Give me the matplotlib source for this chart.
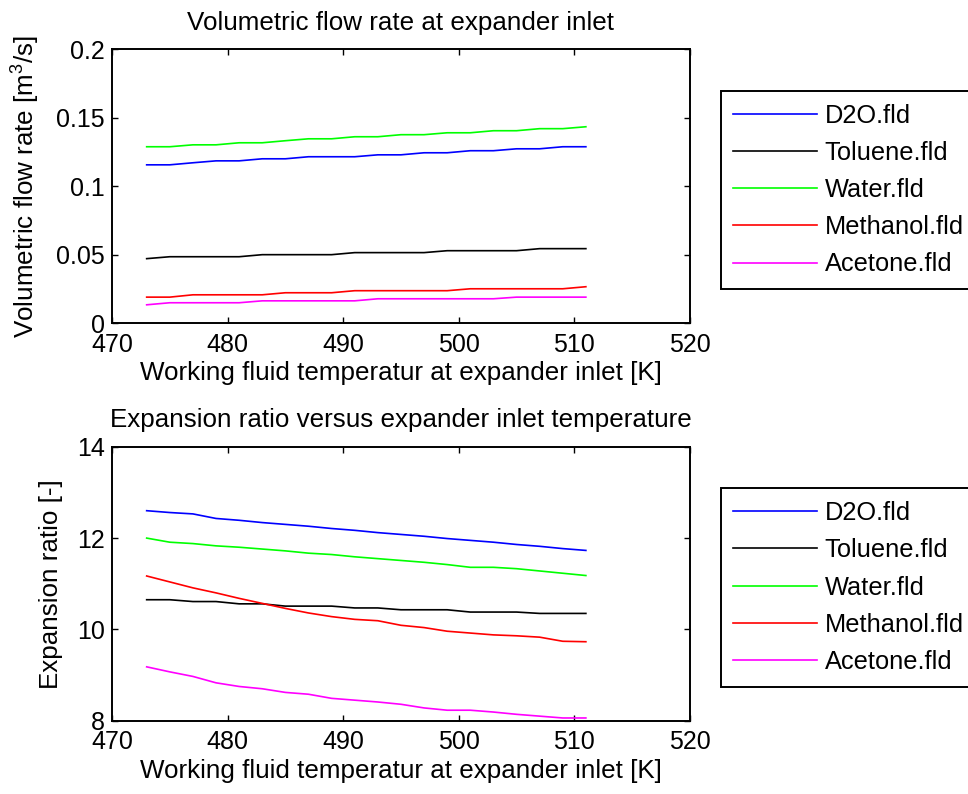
import matplotlib
matplotlib.use("Agg")
import matplotlib.pyplot as plt

plt.rcParams['font.family'] = ['Liberation Sans', 'DejaVu Sans']
plt.rcParams['mathtext.default'] = 'regular'
plt.rcParams['font.size'] = 18.7
plt.rcParams['xtick.labelsize'] = 18
plt.rcParams['ytick.labelsize'] = 18

temps = [473, 475, 477, 479, 481, 483, 485, 487, 489, 491,
         493, 495, 497, 499, 501, 503, 505, 507, 509, 511]
names = ["D2O.fld", "Toluene.fld", "Water.fld", "Methanol.fld", "Acetone.fld"]
colors = ["#0000ff", "#000000", "#00ff00", "#ff0000", "#ff00ff"]

# volumetric flow rate [m3/s]
flow_d2o = [0.1156, 0.1156, 0.1171, 0.1185, 0.1185, 0.1200, 0.1200, 0.1215, 0.1215, 0.1215,
            0.1229, 0.1229, 0.1244, 0.1244, 0.1259, 0.1259, 0.1273, 0.1273, 0.1288, 0.1288]
flow_toluene = [0.0471, 0.0485, 0.0485, 0.0485, 0.0485, 0.0500, 0.0500, 0.0500, 0.0500, 0.0515,
                0.0515, 0.0515, 0.0515, 0.0529, 0.0529, 0.0529, 0.0529, 0.0544, 0.0544, 0.0544]
flow_water = [0.1288, 0.1288, 0.1302, 0.1302, 0.1317, 0.1317, 0.1332, 0.1346, 0.1346, 0.1361,
              0.1361, 0.1376, 0.1376, 0.1390, 0.1390, 0.1405, 0.1405, 0.1420, 0.1420, 0.1434]
flow_methanol = [0.0190, 0.0190, 0.0207, 0.0207, 0.0207, 0.0207, 0.0222, 0.0222, 0.0222, 0.0237,
                 0.0237, 0.0237, 0.0237, 0.0237, 0.0251, 0.0251, 0.0251, 0.0251, 0.0251, 0.0266]
flow_acetone = [0.0134, 0.0149, 0.0149, 0.0149, 0.0149, 0.0163, 0.0163, 0.0163, 0.0163, 0.0163,
                0.0178, 0.0178, 0.0178, 0.0178, 0.0178, 0.0178, 0.0190, 0.0190, 0.0190, 0.0190]

# expansion ratio [-]
ratio_d2o = [12.60, 12.56, 12.53, 12.43, 12.39, 12.34, 12.30, 12.26, 12.21, 12.17,
             12.12, 12.08, 12.04, 11.99, 11.95, 11.91, 11.86, 11.82, 11.77, 11.73]
ratio_toluene = [10.65, 10.65, 10.61, 10.61, 10.56, 10.56, 10.51, 10.51, 10.51, 10.47,
                 10.47, 10.43, 10.43, 10.43, 10.38, 10.38, 10.38, 10.35, 10.35, 10.35]
ratio_water = [12.00, 11.91, 11.88, 11.83, 11.80, 11.76, 11.72, 11.67, 11.64, 11.59,
               11.55, 11.51, 11.47, 11.42, 11.36, 11.36, 11.33, 11.28, 11.23, 11.18]
ratio_methanol = [11.17, 11.04, 10.91, 10.80, 10.68, 10.57, 10.46, 10.36, 10.28, 10.22,
                  10.19, 10.09, 10.04, 9.96, 9.92, 9.88, 9.86, 9.83, 9.74, 9.73]
ratio_acetone = [9.18, 9.07, 8.97, 8.83, 8.75, 8.70, 8.62, 8.58, 8.49, 8.45,
                 8.41, 8.36, 8.28, 8.23, 8.23, 8.19, 8.14, 8.10, 8.06, 8.06]

flows = [flow_d2o, flow_toluene, flow_water, flow_methanol, flow_acetone]
ratios = [ratio_d2o, ratio_toluene, ratio_water, ratio_methanol, ratio_acetone]


def style_axes(ax):
    ax.tick_params(direction="in", top=True, right=True, length=4, width=1)
    ax.tick_params(axis="x", pad=7)
    ax.tick_params(axis="y", pad=5)
    for s in ax.spines.values():
        s.set_linewidth(1.4)
    ax.set_xlim(470, 520)
    ax.set_xticks([470, 480, 490, 500, 510, 520])


def add_legend(ax):
    leg = ax.legend(loc="upper left", bbox_to_anchor=(1.053, 0.848), fontsize=18.3,
                    handlelength=3.3, handletextpad=0.3, borderpad=0.5, labelspacing=0.52,
                    fancybox=False, edgecolor="black", framealpha=1, borderaxespad=0)
    leg.get_frame().set_linewidth(1.4)


fig = plt.figure(figsize=(9.68, 7.94), dpi=100)

ax1 = fig.add_axes([0.1157, 0.593, 0.597, 0.345])
for vals, name, c in zip(flows, names, colors):
    ax1.plot(temps, vals, color=c, lw=1.2, label=name)
style_axes(ax1)
ax1.set_ylim(0, 0.2)
ax1.set_yticks([0, 0.05, 0.1, 0.15, 0.2])
ax1.set_yticklabels(["0", "0.05", "0.1", "0.15", "0.2"])
ax1.set_title("Volumetric flow rate at expander inlet", fontsize=18.7, pad=14)
ax1.set_xlabel("Working fluid temperatur at expander inlet [K]", labelpad=3)
ax1.set_ylabel("Volumetric flow rate [m$^3$/s]", labelpad=10)
add_legend(ax1)

ax2 = fig.add_axes([0.1157, 0.0923, 0.597, 0.345])
for vals, name, c in zip(ratios, names, colors):
    ax2.plot(temps, vals, color=c, lw=1.2, label=name)
style_axes(ax2)
ax2.set_ylim(8, 14)
ax2.set_yticks([8, 10, 12, 14])
ax2.set_title("Expansion ratio versus expander inlet temperature", fontsize=18.7, pad=14)
ax2.set_xlabel("Working fluid temperatur at expander inlet [K]", labelpad=3)
ax2.set_ylabel("Expansion ratio [-]", labelpad=10)
add_legend(ax2)

fig.savefig("out.png", dpi=100)
